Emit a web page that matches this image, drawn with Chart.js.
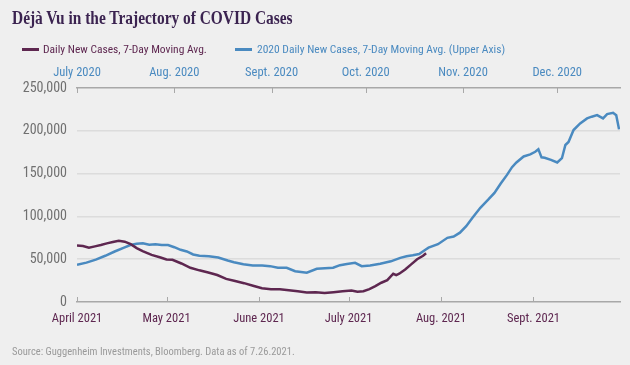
<!DOCTYPE html>
<html><head><meta charset="utf-8">
<script src="https://cdn.jsdelivr.net/npm/chart.js@4"></script>
<style>
html,body{margin:0;padding:0;background:#efefef;width:630px;height:365px;overflow:hidden}
#wrap{position:relative;width:630px;height:365px;background:#efefef}
canvas{position:absolute;left:0;top:0}
.t{position:absolute;white-space:nowrap;line-height:16px}
.nar{font-family:'Roboto Condensed','DejaVu Sans Condensed',sans-serif}
#title{left:12px;top:7px;font:bold 18px 'Liberation Serif',serif;color:#3b2350;line-height:22px;transform:scaleX(0.856);transform-origin:0 0}
.ln{position:absolute;height:3px}
</style></head><body><div id="wrap">
<canvas id="c" width="630" height="365"></canvas>
<div class="t" id="title">Déjà Vu in the Trajectory of COVID Cases</div>
<div class="ln" style="left:22px;top:48px;width:17px;background:#5e2750"></div>
<div class="t nar" style="left:43px;top:41px;font-size:11.5px;color:#5e2750">Daily New Cases, 7-Day Moving Avg.</div>
<div class="ln" style="left:235px;top:48px;width:17px;background:#4a8ac0"></div>
<div class="t nar" style="left:257px;top:41px;font-size:11.5px;color:#4a8ac0">2020 Daily New Cases, 7-Day Moving Avg. (Upper Axis)</div>
<div class="t nar" style="left:12px;top:344px;font-size:10.5px;color:#9a9a9a">Source: Guggenheim Investments, Bloomberg. Data as of 7.26.2021.</div>
</div>
<script>
// 2021 series (lower axis): day offset from April 1, 2021
const days2021 = [0,2,4,6,8,10,12,14,16,18,20,22,25,28,30,32,35,38,41,44,47,50,53,56,59,62,65,68,71,74,77,80,83,86,89,92,94,96,98,100,102,104,106,107,108,110,112,114,116,117];
const cases2021 = [66000,65500,63500,65000,66500,68500,70000,71500,70500,67500,63000,59500,55000,52000,49700,49300,45000,40000,37000,34500,31500,27000,24500,22000,19000,16000,14800,15000,13800,12500,11000,11500,10500,11500,12500,13500,12000,12500,15000,18500,22500,25500,33000,31500,33000,38000,44000,50000,54000,57000];
// 2020 series (upper axis): day offset from July 1, 2020
const days2020 = [0,3,6,9,12,15,17,19,21,23,25,27,29,31,33,35,37,39,42,45,48,50,53,56,59,61.5,64,66.8,69.5,73.2,76.4,79,81.6,83.8,86,88.6,90.7,93.4,96.6,100,103,105,107,109,111,112,115,118,120,122,124,126,128.5,131,133,135,137,138.6,140,142.3,144.4,146,147,148,149,151,153,154.5,155.6,156.6,158.2,160.3,162.5,164,165.7,167.6,168.9,170.8,171.8,172.7];
const cases2020 = [43500,46000,49500,54000,59000,63500,66500,68000,68500,67000,67500,66500,66500,64000,61000,59000,55500,54000,53500,52000,48500,46500,44000,42700,42500,41900,40000,40000,36000,34200,38800,39500,40000,43000,44500,45800,41900,42700,44700,47500,51500,53500,54500,56000,61000,63500,67500,75000,76500,81000,88500,98500,110000,119500,127500,138500,148500,157500,163000,170000,172500,175500,178500,169000,168500,166000,163000,168000,183400,187000,200900,208600,214500,216500,218300,214500,219500,221000,218300,201700];
// tick positions / labels
const lowerTickDays = [0,30,61,91,122,153];
const lowerTickLabels = ['April 2021','May 2021','June 2021','July 2021','Aug. 2021','Sept. 2021'];
const upperTickDays = [0,31,62,92,123,153];
const upperTickLabels = ['July 2020','Aug. 2020','Sept. 2020','Oct. 2020','Nov. 2020','Dec. 2020'];
const yTicks = [0,50000,100000,150000,200000,250000];

const PURPLE = '#5e2750', BLUE = '#4a8ac0', AXIS = '#a8a8a8';
const NARROW = "'Roboto Condensed','DejaVu Sans Condensed',sans-serif";

const tickMarks = {
  id:'tickMarks',
  afterDatasetsDraw(chart){
    const ctx = chart.ctx;
    ctx.save();
    ctx.strokeStyle = AXIS; ctx.lineWidth = 1;
    const xs = chart.scales.x, xt = chart.scales.x2, a = chart.chartArea;
    lowerTickDays.forEach(d=>{const p=Math.round(xs.getPixelForValue(d))+0.5;ctx.beginPath();ctx.moveTo(p,a.bottom);ctx.lineTo(p,a.bottom-5);ctx.stroke();});
    upperTickDays.forEach(d=>{const p=Math.round(xt.getPixelForValue(d))+0.5;ctx.beginPath();ctx.moveTo(p,a.top);ctx.lineTo(p,a.top+5);ctx.stroke();});
    ctx.restore();
  }
};

new Chart(document.getElementById('c'), {
  type:'line',
  data:{datasets:[
    {label:'Daily New Cases, 7-Day Moving Avg.', data:days2021.map((d,i)=>({x:d,y:cases2021[i]})), xAxisID:'x', yAxisID:'y', borderColor:PURPLE, borderWidth:2.5, pointRadius:0, tension:0, order:0},
    {label:'2020 Daily New Cases, 7-Day Moving Avg. (Upper Axis)', data:days2020.map((d,i)=>({x:d,y:cases2020[i]})), xAxisID:'x2', yAxisID:'y', borderColor:BLUE, borderWidth:2.5, pointRadius:0, tension:0, order:1}
  ]},
  options:{
    responsive:false, animation:false, devicePixelRatio:1,
    layout:{padding:{top:60,right:10,bottom:38,left:0}},
    plugins:{legend:{display:false}, tooltip:{enabled:false}, title:{display:false}},
    scales:{
      x:{type:'linear', position:'bottom', min:0, max:182,
        afterBuildTicks:s=>{s.ticks = lowerTickDays.map(v=>({value:v}));},
        afterFit:s=>{s.height=25;},
        ticks:{autoSkip:false, maxRotation:0, padding:9, color:PURPLE, font:{family:NARROW,size:12.5},
          callback:v=>{const i=lowerTickDays.indexOf(v);return i>=0?lowerTickLabels[i]:'';}},
        grid:{display:true, drawOnChartArea:false, drawTicks:false},
        border:{display:true, color:AXIS, width:1.5}},
      x2:{type:'linear', position:'top', min:0, max:173,
        afterBuildTicks:s=>{s.ticks = upperTickDays.map(v=>({value:v}));},
        afterFit:s=>{s.height=28;},
        ticks:{autoSkip:false, maxRotation:0, padding:8, color:BLUE, font:{family:NARROW,size:12.5},
          callback:v=>{const i=upperTickDays.indexOf(v);return i>=0?upperTickLabels[i]:'';}},
        grid:{display:true, drawOnChartArea:false, drawTicks:false},
        border:{display:true, color:AXIS, width:1.5}},
      y:{min:0, max:250000,
        afterBuildTicks:s=>{s.ticks = yTicks.map(v=>({value:v}));},
        afterFit:s=>{s.width=77;},
        ticks:{padding:10, color:'#707070', font:{family:NARROW,size:14},
          callback:v=>v.toLocaleString('en-US')},
        grid:{color:c=>(c.tick && (c.tick.value===0||c.tick.value===250000))?'rgba(0,0,0,0)':'#dcdcdc', lineWidth:1.5, drawTicks:false},
        border:{display:false}}
    }
  },
  plugins:[tickMarks]
});
</script>
</body></html>
